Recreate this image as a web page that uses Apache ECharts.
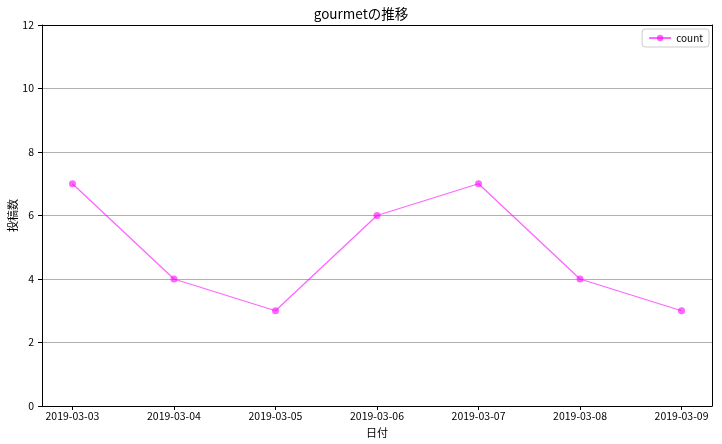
<!DOCTYPE html>
<html><head><meta charset="utf-8">
<script src="https://cdn.jsdelivr.net/npm/echarts@6/dist/echarts.min.js"></script>
<style>html,body{margin:0;padding:0;background:#fff}#c{width:722px;height:444px}</style>
</head><body><div id="c"></div>
<script>
const categories = ['2019-03-03','2019-03-04','2019-03-05','2019-03-06','2019-03-07','2019-03-08','2019-03-09'];
const counts = [7,4,3,6,7,4,3];
const yTicks = [0,2,4,6,8,10,12];
const FONT = '"Noto Sans CJK JP", "DejaVu Sans", sans-serif';
const idx = categories.map((_, i) => i);
const frameAxis = {show:true, axisLine:{show:true, onZero:false, lineStyle:{color:'#000', width:1}}, axisTick:{show:false}, axisLabel:{show:false}, splitLine:{show:false}};
const chart = echarts.init(document.getElementById('c'), null, {renderer:'canvas'});
chart.setOption({
  animation:false,
  textStyle:{fontFamily:FONT},
  title:{text:'gourmetの推移', left:'center', top:2, textStyle:{fontSize:13.5, fontWeight:'normal', color:'#000', fontFamily:FONT}},
  legend:{right:13, top:29, data:['count'], itemWidth:22, itemHeight:8, padding:[4,6,4,6], borderColor:'#ccc', borderWidth:1, borderRadius:3, textStyle:{fontSize:10, color:'#000', fontFamily:FONT}},
  grid:{left:42, right:10, top:25, bottom:38, outerBoundsMode:'none', show:false},
  xAxis:[{type:'value', min:-0.3, max:6.3, name:'日付', nameLocation:'middle', nameGap:21, nameMoveOverlap:false,
    nameTextStyle:{fontSize:11, color:'#000', fontFamily:FONT},
    axisLine:{show:true, onZero:false, lineStyle:{color:'#000', width:1}},
    axisTick:{show:true, inside:false, length:4, customValues:idx, lineStyle:{color:'#000'}},
    axisLabel:{customValues:idx, formatter:v=>categories[Math.round(v)], fontSize:10.5, color:'#000', margin:5, fontFamily:FONT},
    splitLine:{show:false}},
    Object.assign({type:'value', position:'top', min:-0.3, max:6.3}, frameAxis)],
  yAxis:[{type:'value', min:yTicks[0], max:yTicks[yTicks.length-1], interval:2, name:'投稿数', nameLocation:'middle', nameGap:24, nameMoveOverlap:false,
    nameTextStyle:{fontSize:11, color:'#000', fontFamily:FONT},
    axisLine:{show:true, onZero:false, lineStyle:{color:'#000', width:1}},
    axisTick:{show:true, inside:false, length:4, lineStyle:{color:'#000'}},
    axisLabel:{fontSize:10.5, color:'#000', margin:8, fontFamily:FONT},
    splitLine:{show:true, lineStyle:{color:'#b0b0b0', width:1}}},
    Object.assign({type:'value', position:'right', min:0, max:12, interval:2}, frameAxis)],
  series:[{name:'count', type:'line', data:counts.map((v,i)=>[i,v]), symbol:'circle', symbolSize:7,
    lineStyle:{color:'rgba(255,0,255,0.6)', width:1.3}, itemStyle:{color:'rgba(255,0,255,0.6)', borderWidth:0}}]
});
</script></body></html>
